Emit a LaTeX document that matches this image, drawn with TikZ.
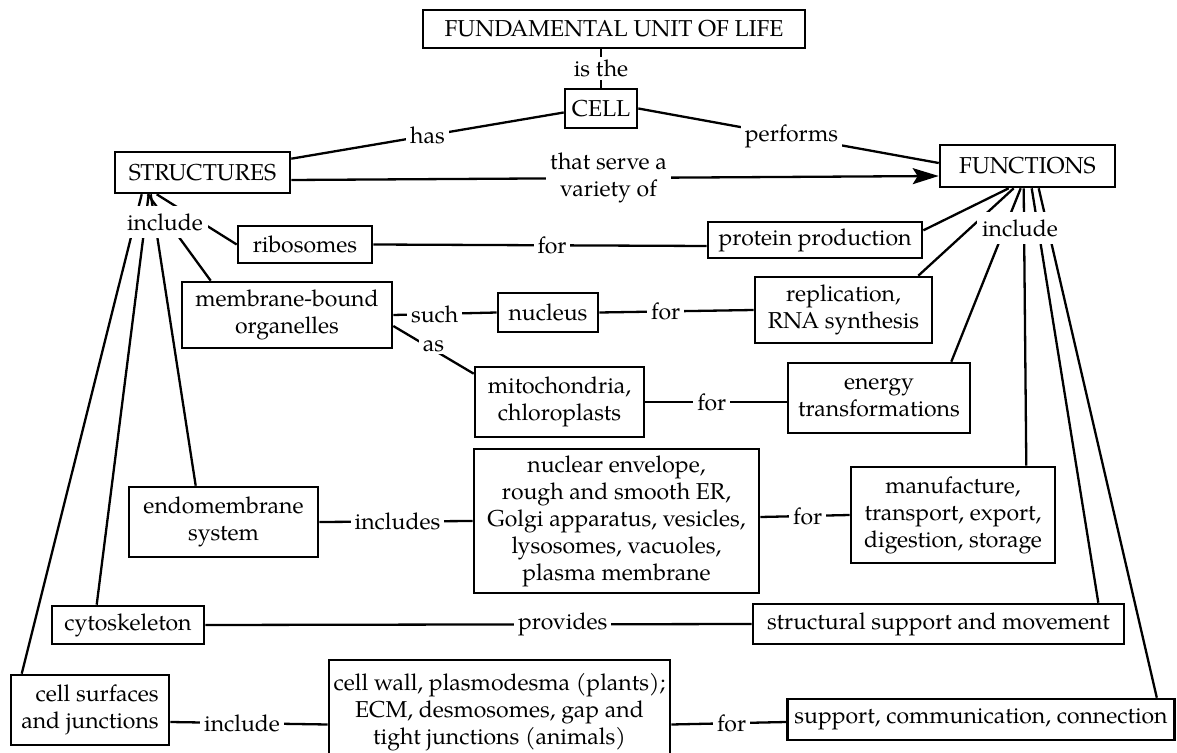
\documentclass[tikz,border=0pt]{standalone}
\usepackage{fontspec}
\setmainfont{TeX Gyre Pagella}
\usetikzlibrary{arrows.meta,calc}
\newcommand{\cmfont}{\fontsize{11.5}{13.5}\selectfont}
\tikzset{
  bx/.style 2 args={draw, line width=1.3pt, fill=white, align=center, inner sep=0pt,
    minimum width=#1*0.5pt, minimum height=#2*0.5pt, font=\cmfont},
  lbl/.style={fill=white, inner xsep=2pt, inner ysep=1.5pt, font=\cmfont, align=center},
  inc/.style={fill=white, inner xsep=2.5pt, inner ysep=3.5pt, font=\cmfont},
  ln/.style={line width=1.15pt},
}
\begin{document}
\begin{tikzpicture}[x=0.5pt,y=-0.5pt]
\clip (0,0) rectangle (1177,753);
\fill[white] (0,0) rectangle (1177,753);

% boxes
\node[bx={382}{38}] (FUND) at (614,29) {FUNDAMENTAL UNIT OF LIFE};
\node[bx={72}{39}] (CELL) at (601,108.5) {CELL};
\node[bx={175}{41}] (STR) at (202.5,172.5) {STRUCTURES};
\node[bx={175}{42}] (FUN) at (1027.5,166) {FUNCTIONS};
\node[bx={134}{37}] (rib) at (305,244.5) {ribosomes};
\node[bx={214}{36}] (pp) at (815,240) {protein production};
\node[bx={210}{66}] (mb) at (287,315) {membrane-bound\\organelles};
\node[bx={100}{39}] (nu) at (548,312.5) {nucleus};
\node[bx={177}{66}] (rep) at (843.5,310) {replication,\\RNA synthesis};
\node[bx={169}{70}] (mi) at (559.5,402) {mitochondria,\\chloroplasts};
\node[bx={182}{70}] (en) at (879,398) {energy\\transformations};
\node[bx={189}{70}] (endo) at (223.5,522) {endomembrane\\system};
\node[bx={285}{144}] (ne) at (616.5,521) {nuclear envelope,\\rough and smooth ER,\\Golgi apparatus, vesicles,\\lysosomes, vacuoles,\\plasma membrane};
\node[bx={204}{96}] (man) at (953,515) {manufacture,\\transport, export,\\digestion, storage};
\node[bx={152}{38}] (cy) at (128,625) {cytoskeleton};
\node[bx={371}{40}] (ss) at (938.5,624) {structural support and movement};
\node[bx={158}{70}, align=right] (cs) at (90,710) {cell surfaces\\and junctions};
\node[bx={341}{105}] (cw) at (499.5,712.5) {cell wall, plasmodesma (plants);\\ECM, desmosomes, gap and\\tight junctions (animals)};
\node[bx={387}{41}] (sp) at (981,719.5) {support, communication, connection};

% top connectors
\draw[ln] (FUND.south -| CELL.north) -- node[lbl] {is the} (CELL.north);
\draw[ln] ([yshift=-4pt]STR.north east) -- node[lbl, pos=0.5] {has} ([yshift=-2pt]CELL.west);
\draw[ln] (CELL.east) -- node[lbl, pos=0.51] {performs} ([yshift=1.5pt]FUN.west);
\draw[ln, -{Stealth[length=13pt,width=8pt,inset=2.5pt]}] ([yshift=-3.75pt]STR.east) -- node[lbl, pos=0.49, inner ysep=0pt] {that serve a\\variety of} ([yshift=-5pt]FUN.west);

% structures fan
\draw[ln] ([xshift=21.5pt]STR.south west) -- (rib.west);
\draw[ln] ([xshift=17pt]STR.south west) -- ([xshift=15pt]mb.north west);
\draw[ln] ([xshift=18.5pt]STR.south west) -- ([xshift=34pt]endo.north west);
\draw[ln] ([xshift=17.5pt]STR.south west) -- ([xshift=23pt]cy.north west);
\draw[ln] ([xshift=14pt]STR.south west) -- ([xshift=6pt]cs.north west);

% functions fan
\draw[ln] ([xshift=35pt]FUN.south west) -- ($(pp.north east)!0.25!(pp.south east)$);
\draw[ln] ([xshift=37.5pt]FUN.south west) -- ([xshift=-7.5pt]rep.north east);
\draw[ln] ([xshift=41pt]FUN.south west) -- ([xshift=-10pt]en.north east);
\draw[ln] ([xshift=42.5pt]FUN.south west) -- ([xshift=-15pt]man.north east);
\draw[ln] ([xshift=46.5pt]FUN.south west) -- ([xshift=-13.5pt]ss.north east);
\draw[ln] ([xshift=50pt]FUN.south west) -- ([xshift=-9.5pt]sp.north east);

% rows
\draw[ln] (rib.east) -- node[lbl, pos=0.536] {for} ([yshift=-3pt]pp.west);
\draw[ln] (mb.east) -- node[lbl, pos=0.4] {such} (nu.west);
\draw[ln] ([yshift=-5.5pt]mb.east) -- node[lbl, pos=0.5, yshift=2pt] {as} ([yshift=-4pt]mi.north west);
\draw[ln] (nu.east) -- node[lbl, pos=0.43] {for} (rep.west);
\draw[ln] (mi.east) -- node[lbl, pos=0.47] {for} ([yshift=-2pt]en.west);
\draw[ln] (endo.east) -- node[lbl, pos=0.51] {includes} (ne.west);
\draw[ln] ([yshift=2pt]ne.east) -- node[lbl, pos=0.53] {for} (man.west);
\draw[ln] (cy.east) -- node[lbl, pos=0.654] {provides} (ss.west);
\draw[ln] ([yshift=-6pt]cs.east) -- node[lbl, pos=0.456] {include} ([yshift=-6pt]cw.west);
\draw[ln] ([yshift=-6pt]cw.east) -- node[lbl, pos=0.525] {for} ([yshift=-1.25pt]sp.west);

% include labels over the fans
\node[inc] (incS) at (165,222) {include};
\node[inc] (incF) at (1020,228) {include};
\end{tikzpicture}
\end{document}
